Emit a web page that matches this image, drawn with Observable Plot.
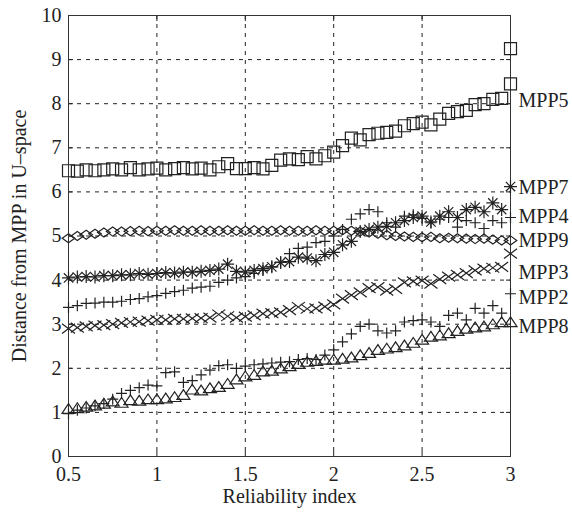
<!DOCTYPE html>
<html><head><meta charset="utf-8">
<script src="https://cdn.jsdelivr.net/npm/d3@7"></script>
<script src="https://cdn.jsdelivr.net/npm/@observablehq/plot@0.6"></script>
<style>body{margin:0;background:#fff} svg{display:block} svg text{font-family:"Liberation Serif","Times New Roman",serif !important}</style>
</head><body><div id="chart"></div>
<script>
// ---------- data ----------
const beta = [0.5,0.55,0.6,0.65,0.7,0.75,0.8,0.85,0.9,0.95,1,1.05,1.1,1.15,1.2,1.25,1.3,1.35,1.4,1.45,1.5,1.55,1.6,1.65,1.7,1.75,1.8,1.85,1.9,1.95,2,2.05,2.1,2.15,2.2,2.25,2.3,2.35,2.4,2.45,2.5,2.55,2.6,2.65,2.7,2.75,2.8,2.85,2.9,2.95,3];

const mpp5 = [6.48,6.47,6.5,6.48,6.5,6.52,6.5,6.55,6.5,6.52, 6.54,6.5,6.53,6.55,6.52,6.54,6.5,6.57,6.64,6.53, 6.53,6.55,6.52,6.6,6.72,6.75,6.73,6.8,6.75,6.82, 6.9,7.05,7.22,7.18,7.3,7.33,7.35,7.38,7.5,7.55, 7.58,7.52,7.65,7.78,7.82,7.85,7.98,8.0,8.1,8.12, 8.45];
const mpp5OutlierBeta = [3];
const mpp5OutlierValue = [9.25];
const mpp7 = [4.05,4.07,4.08,4.07,4.1,4.1,4.12,4.12,4.15,4.13, 4.15,4.17,4.16,4.18,4.18,4.2,4.22,4.25,4.36,4.2, 4.18,4.22,4.26,4.3,4.4,4.42,4.52,4.5,4.44,4.58, 4.63,4.8,4.88,5.1,5.15,5.2,5.22,5.3,5.35,5.42, 5.45,5.32,5.45,5.55,5.42,5.6,5.65,5.55,5.75,5.6, 6.12];
const mpp4 = [3.38,3.42,3.47,3.48,3.5,3.5,3.52,3.56,3.58,3.62, 3.65,3.7,3.74,3.77,3.82,3.84,3.86,3.95,4.0,4.05, 4.08,4.15,4.22,4.3,4.4,4.6,4.72,4.75,4.85,4.88, 5.0,5.15,5.38,5.5,5.6,5.55,5.3,5.2,5.45,5.48, 5.4,5.3,5.38,5.42,5.2,5.35,5.3,5.17,5.35,5.3, 5.42];
const mpp9 = [4.95,5.0,5.03,5.05,5.08,5.1,5.1,5.11,5.12,5.11, 5.12,5.12,5.13,5.12,5.12,5.13,5.12,5.12,5.13,5.12, 5.12,5.13,5.12,5.12,5.13,5.12,5.12,5.12,5.13,5.12, 5.12,5.13,5.12,5.1,5.08,5.05,5.02,5.0,4.99,4.98, 4.97,4.98,4.95,4.96,4.95,4.94,4.93,4.94,4.92,4.9, 4.9];
const mpp3 = [2.9,2.92,2.95,2.97,2.98,3.0,3.03,3.05,3.06,3.08, 3.1,3.1,3.12,3.12,3.13,3.14,3.15,3.22,3.18,3.15, 3.17,3.2,3.24,3.25,3.27,3.32,3.39,3.35,3.36,3.4, 3.45,3.58,3.66,3.72,3.82,3.84,3.76,3.8,3.95,3.97, 3.99,3.92,4.02,4.08,4.12,4.16,4.22,4.26,4.28,4.3, 4.6];
const mpp2 = [0.97,1.05,1.1,1.15,1.2,1.3,1.43,1.5,1.56,1.62, 1.6,1.9,1.92,1.68,1.72,1.85,1.96,2.06,2.08,2.0, 2.05,2.08,2.1,2.12,2.14,2.15,2.2,2.22,2.2,2.3, 2.42,2.6,2.78,2.95,3.0,2.85,2.8,2.85,3.05,3.08, 3.1,3.05,2.95,3.2,3.25,3.1,3.36,3.25,3.42,3.25, 3.69];
const mpp8 = [1.08,1.1,1.13,1.16,1.2,1.25,1.22,1.28,1.27,1.3, 1.3,1.32,1.35,1.4,1.52,1.5,1.55,1.58,1.65,1.75, 1.82,1.85,1.93,1.95,2.0,2.05,2.1,2.15,2.17,2.2, 2.2,2.22,2.25,2.3,2.35,2.42,2.45,2.48,2.52,2.58, 2.65,2.72,2.75,2.8,2.85,2.9,2.93,2.95,3.0,3.05, 3.05];

const labelNames = ["MPP5","MPP7","MPP4","MPP9","MPP3","MPP2","MPP8"];
const labelValues = [8.07,6.1,5.45,4.9,4.18,3.6,2.95];

const xTicks = [0.5,1,1.5,2,2.5,3];
const xTickLabels = ["0.5","1","1.5","2","2.5","3"];
const yTicks = [0,1,2,3,4,5,6,7,8,9,10];
const yTickLabels = ["0","1","2","3","4","5","6","7","8","9","10"];
const xTitle = "Reliability index";
const yTitle = "Distance from MPP in U\u2013space";

// ---------- marker shapes ----------
const symSquare = {draw(c, s){const r=Math.sqrt(s/Math.PI); c.moveTo(-r,-r); c.lineTo(r,-r); c.lineTo(r,r); c.lineTo(-r,r); c.closePath();}};
const symDiamond = {draw(c, s){const r=Math.sqrt(s/Math.PI), h=r*0.72; c.moveTo(-r,0); c.lineTo(0,-h); c.lineTo(r,0); c.lineTo(0,h); c.closePath();}};
const symTimes = {draw(c, s){const r=Math.sqrt(s/Math.PI), h=r*0.75; c.moveTo(-r,-h); c.lineTo(r,h); c.moveTo(-r,h); c.lineTo(r,-h);}};
const symPlus = {draw(c, s){const r=Math.sqrt(s/Math.PI); c.moveTo(-r,0); c.lineTo(r,0); c.moveTo(0,-r); c.lineTo(0,r);}};
const symStar = {draw(c, s){const r=Math.sqrt(s/Math.PI), d=r*0.72; c.moveTo(-r,0); c.lineTo(r,0); c.moveTo(0,-r); c.lineTo(0,r); c.moveTo(-d,-d); c.lineTo(d,d); c.moveTo(-d,d); c.lineTo(d,-d);}};
const symTriangle = {draw(c, s){const r=Math.sqrt(s/Math.PI); c.moveTo(0,-0.8*r); c.lineTo(r,0.7*r); c.lineTo(-r,0.7*r); c.closePath();}};

const series = [
  {values: mpp8, symbol: symTriangle, r: 6.5},
  {values: mpp2, symbol: symPlus, r: 5.5},
  {values: mpp3, symbol: symTimes, r: 6.5},
  {values: mpp9, symbol: symDiamond, r: 6.3},
  {values: mpp4, symbol: symPlus, r: 5.5},
  {values: mpp7, symbol: symStar, r: 6.5},
  {values: mpp5, symbol: symSquare, r: 6}
];
const ink = "#222";

const dotMarks = series.map(s => Plot.dot(beta.map((b, i) => ({b, v: s.values[i]})), {
  x: "b", y: "v", symbol: s.symbol, r: s.r, stroke: ink, fill: "none", strokeWidth: 1.2
}));
const outlier = Plot.dot(mpp5OutlierBeta.map((b, i) => ({b, v: mpp5OutlierValue[i]})), {
  x: "b", y: "v", symbol: symSquare, r: 6, stroke: ink, fill: "none", strokeWidth: 1.2
});

const labels = labelNames.map((n, i) => ({n, v: labelValues[i], b: xTicks[xTicks.length - 1]}));

const chart = Plot.plot({
  width: 572,
  height: 512,
  marginLeft: 68,
  marginRight: 62,
  marginTop: 15,
  marginBottom: 56,
  x: {domain: [0.5, 3]},
  y: {domain: [0, 10]},
  style: {fontFamily: "'Liberation Serif', 'Times New Roman', serif", fontSize: "20px", color: "#222", background: "#fff", overflow: "visible"},
  marks: [
    Plot.gridX(xTicks.slice(1, -1), {stroke: "#222", strokeOpacity: 1, strokeDasharray: "4,5"}),
    Plot.gridY(yTicks.slice(1, -1), {stroke: "#222", strokeOpacity: 1, strokeDasharray: "4,5"}),
    Plot.axisX(xTicks, {tickSize: 0, tickPadding: 10, tickFormat: (d, i) => xTickLabels[i], label: null}),
    Plot.axisX(xTicks, {tickSize: -5, fill: "none", label: null}),
    Plot.axisX(xTicks, {anchor: "top", tickSize: -5, fill: "none", label: null}),
    Plot.axisY(yTicks, {tickSize: 0, tickPadding: 7, tickFormat: (d, i) => yTickLabels[i], label: null}),
    Plot.axisY(yTicks, {tickSize: -5, fill: "none", label: null}),
    Plot.axisY(yTicks, {anchor: "right", tickSize: -5, fill: "none", label: null}),
    Plot.frame({stroke: "#333", strokeWidth: 1}),
    ...dotMarks,
    outlier,
    Plot.text(labels, {x: "b", y: "v", text: "n", dx: 8, textAnchor: "start", fill: "#222"}),
    Plot.text([xTitle], {frameAnchor: "bottom", dy: 46, textAnchor: "middle", fill: "#222"}),
    Plot.text([yTitle], {frameAnchor: "left", dx: -49, rotate: -90, textAnchor: "middle", fill: "#222"})
  ]
});
document.getElementById("chart").append(chart);
</script></body></html>
